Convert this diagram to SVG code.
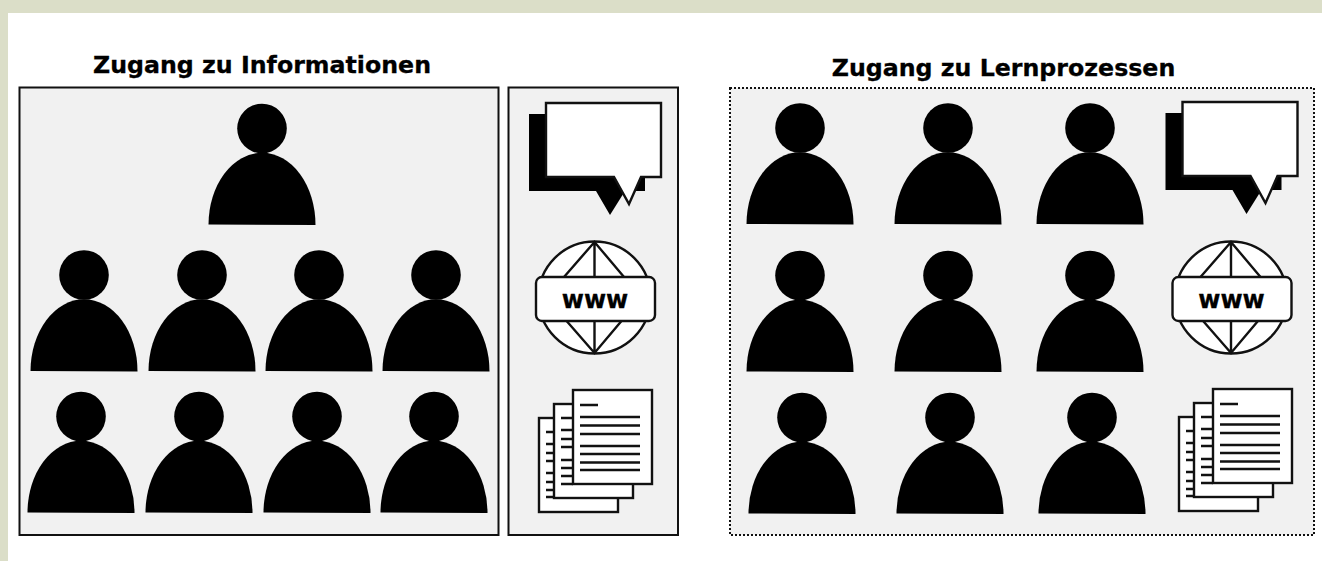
<svg xmlns="http://www.w3.org/2000/svg" width="1322" height="561" viewBox="0 0 1322 561">
<style>
.title{font-family:"DejaVu Sans",Verdana,sans-serif;font-weight:bold;font-size:23.700px;fill:#000;text-anchor:middle;stroke:#000;stroke-width:.3}
.www{font-family:"DejaVu Sans",Verdana,sans-serif;font-weight:bold;font-size:24px;fill:#000;text-anchor:middle;stroke:#000;stroke-width:.3}
.box{fill:#f1f1f1;stroke:#111;stroke-width:2}
.dot{fill:#f1f1f1;stroke:#111;stroke-width:2;stroke-dasharray:2 2}
.w{fill:#fff;stroke:#111;stroke-width:2.400}
.l{fill:none;stroke:#111;stroke-width:2.400}
</style>
<defs>
<g id="person"><circle cx="0" cy="0" r="24.800"/><path d="M-53.500,96A53.500,72 0 0 1 53.500,96.500Z"/></g>
<g id="bubble">
<path d="M529,114H600V191H529Z" fill="#000"/>
<path d="M560,170H645V191H625L610,215L596,191H560Z" fill="#000"/>
<path class="w" d="M546,103H661V177H641L629,204L614,177H546Z"/>
</g>
<g id="globe">
<circle class="w" cx="594.500" cy="297.500" r="56"/>
<path class="l" d="M564,277L594.500,242L624,277M594.500,242V277M564,318L594.500,353L624,318M594.500,353V318"/>
<rect class="w" x="536" y="277" width="119" height="44" rx="6"/>
<text class="www" x="595" y="308">www</text>
</g>
<g id="docs">
<rect class="w" x="539" y="418" width="79" height="94"/>
<path class="l" d="M546,432H554M546,444H554M546,453H554M546,461H554M546,473H554M546,482H554M546,490H554M546,497H554"/>
<rect class="w" x="554" y="404" width="79" height="94"/>
<path class="l" d="M561,418H573M561,430H573M561,439H573M561,447H573M561,460H573M561,468H573M561,476H573M561,484H573"/>
<rect class="w" x="573" y="390" width="79" height="94"/>
<path class="l" d="M580,405H598M580,417H640M580,425.500H640M580,434H640M580,446H640M580,454H640M580,462.500H640M580,470H640"/>
</g>
</defs>
<rect width="1322" height="561" fill="#fff"/>
<rect width="1322" height="13" fill="#dbdec8"/>
<rect width="8" height="561" fill="#dbdec8"/>
<text class="title" x="262" y="73">Zugang zu Informationen</text>
<text class="title" x="1003.500" y="76">Zugang zu Lernprozessen</text>
<g id="panel-info-people"><rect class="box" x="19.500" y="87.500" width="479" height="447.500"/></g>
<g id="panel-info-media"><rect class="box" x="508.500" y="87.500" width="169.500" height="447.500"/></g>
<g id="panel-learn"><rect class="dot" x="730" y="88" width="584" height="447"/></g>
<g id="connectors"/>
<g id="p1"><use href="#person" x="262" y="128.500"/></g>
<g id="p2"><use href="#person" x="84" y="275"/></g>
<g id="p3"><use href="#person" x="202" y="275"/></g>
<g id="p4"><use href="#person" x="319" y="275"/></g>
<g id="p5"><use href="#person" x="436" y="275"/></g>
<g id="p6"><use href="#person" x="81" y="416.500"/></g>
<g id="p7"><use href="#person" x="199" y="416.500"/></g>
<g id="p8"><use href="#person" x="317" y="416.500"/></g>
<g id="p9"><use href="#person" x="434" y="416.500"/></g>
<g id="bubble-left"><use href="#bubble"/></g>
<g id="globe-left"><use href="#globe"/></g>
<g id="docs-left"><use href="#docs"/></g>
<g id="q1"><use href="#person" x="800" y="128"/></g>
<g id="q2"><use href="#person" x="948" y="128"/></g>
<g id="q3"><use href="#person" x="1090" y="128"/></g>
<g id="q4"><use href="#person" x="800" y="275.500"/></g>
<g id="q5"><use href="#person" x="948" y="275.500"/></g>
<g id="q6"><use href="#person" x="1090" y="275.500"/></g>
<g id="q7"><use href="#person" x="802" y="417.500"/></g>
<g id="q8"><use href="#person" x="950" y="417.500"/></g>
<g id="q9"><use href="#person" x="1092" y="417.500"/></g>
<g id="bubble-right"><use href="#bubble" x="636.500" y="-1"/></g>
<g id="globe-right"><use href="#globe" x="636.500"/></g>
<g id="docs-right"><use href="#docs" x="640" y="-1"/></g>
</svg>
